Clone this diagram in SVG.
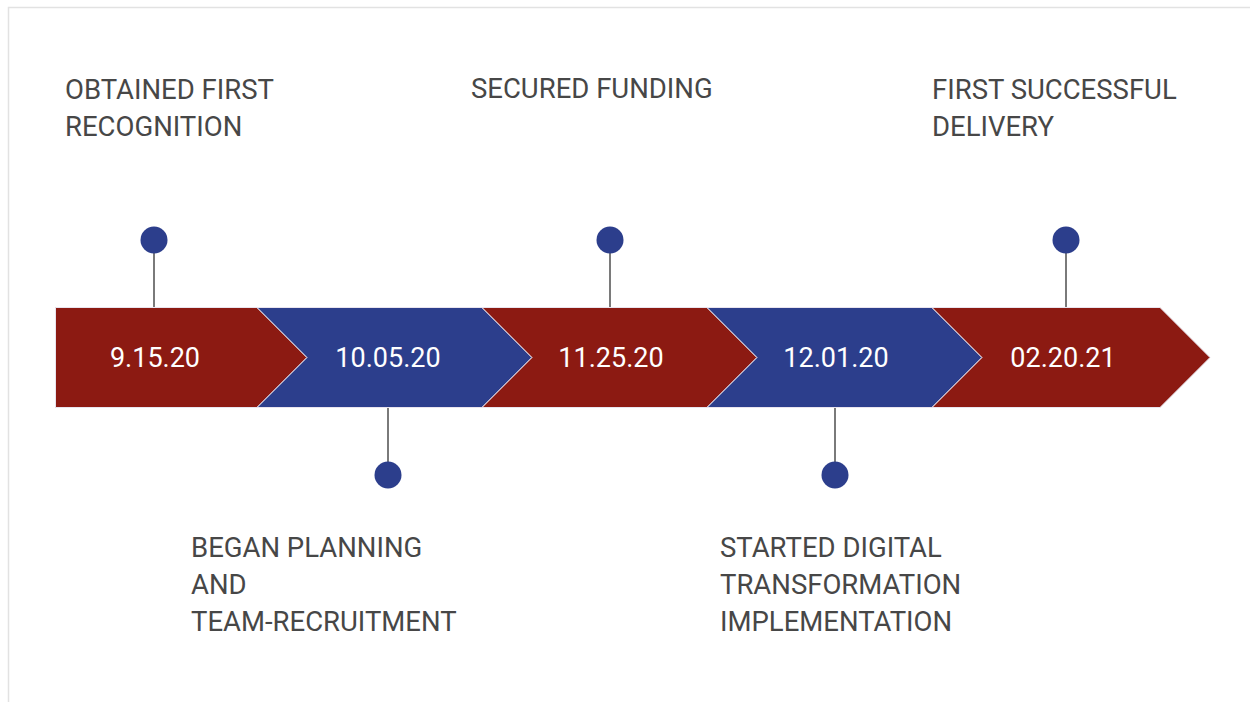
<svg xmlns="http://www.w3.org/2000/svg" width="1250" height="702" viewBox="0 0 1250 702">
  <style>
    .frame { fill: none; stroke: #e2e2e2; stroke-width: 1.5; }
    .red { fill: #8c1a12; stroke: #e9e4ee; stroke-width: 1; }
    .blue { fill: #2c3e8c; stroke: #e9e4ee; stroke-width: 1; }
    .date { font-family: Roboto, "Liberation Sans", sans-serif; font-size: 27px; fill: #ffffff; text-anchor: middle; }
    .label { font-family: Roboto, "Liberation Sans", sans-serif; font-size: 27.5px; fill: #474747; }
    .stem { stroke: #7a7a7a; stroke-width: 2; }
    .pin { fill: #2c3e8c; }
  </style>
  <rect width="1250" height="702" fill="#ffffff"/>
  <path class="frame" d="M8.5 702 V7.5 H1250"/>

  <!-- pin stems and dots linking labels to the band -->
  <g id="connectors">
    <line class="stem" x1="154" y1="250" x2="154" y2="308"/>
    <line class="stem" x1="388" y1="407" x2="388" y2="465"/>
    <line class="stem" x1="610" y1="250" x2="610" y2="308"/>
    <line class="stem" x1="835" y1="407" x2="835" y2="465"/>
    <line class="stem" x1="1066" y1="250" x2="1066" y2="308"/>
    <circle class="pin" cx="154" cy="240" r="13.5"/>
    <circle class="pin" cx="388" cy="475" r="13.5"/>
    <circle class="pin" cx="610" cy="240" r="13.5"/>
    <circle class="pin" cx="835" cy="475" r="13.5"/>
    <circle class="pin" cx="1066" cy="240" r="13.5"/>
  </g>

  <g id="step1">
    <polygon class="red" points="55.5,307.5 257,307.5 307,357.5 257,407.5 55.5,407.5"/>
    <text class="date" x="155" y="367">9.15.20</text>
    <text class="label" x="65" y="99">OBTAINED FIRST</text>
    <text class="label" x="65" y="136">RECOGNITION</text>
  </g>

  <g id="step2">
    <polygon class="blue" points="257,307.5 482,307.5 532,357.5 482,407.5 257,407.5 307,357.5"/>
    <text class="date" x="388" y="367">10.05.20</text>
    <text class="label" x="191" y="557">BEGAN PLANNING</text>
    <text class="label" x="191" y="594">AND</text>
    <text class="label" x="191" y="631">TEAM-RECRUITMENT</text>
  </g>

  <g id="step3">
    <polygon class="red" points="482,307.5 707,307.5 757,357.5 707,407.5 482,407.5 532,357.5"/>
    <text class="date" x="611" y="367">11.25.20</text>
    <text class="label" x="471" y="98">SECURED FUNDING</text>
  </g>

  <g id="step4">
    <polygon class="blue" points="707,307.5 932,307.5 982,357.5 932,407.5 707,407.5 757,357.5"/>
    <text class="date" x="836" y="367">12.01.20</text>
    <text class="label" x="720" y="557">STARTED DIGITAL</text>
    <text class="label" x="720" y="594">TRANSFORMATION</text>
    <text class="label" x="720" y="631">IMPLEMENTATION</text>
  </g>

  <g id="step5">
    <polygon class="red" points="932,307.5 1160,307.5 1210,357.5 1160,407.5 932,407.5 982,357.5"/>
    <text class="date" x="1063" y="367">02.20.21</text>
    <text class="label" x="932" y="99">FIRST SUCCESSFUL</text>
    <text class="label" x="932" y="136">DELIVERY</text>
  </g>
</svg>
